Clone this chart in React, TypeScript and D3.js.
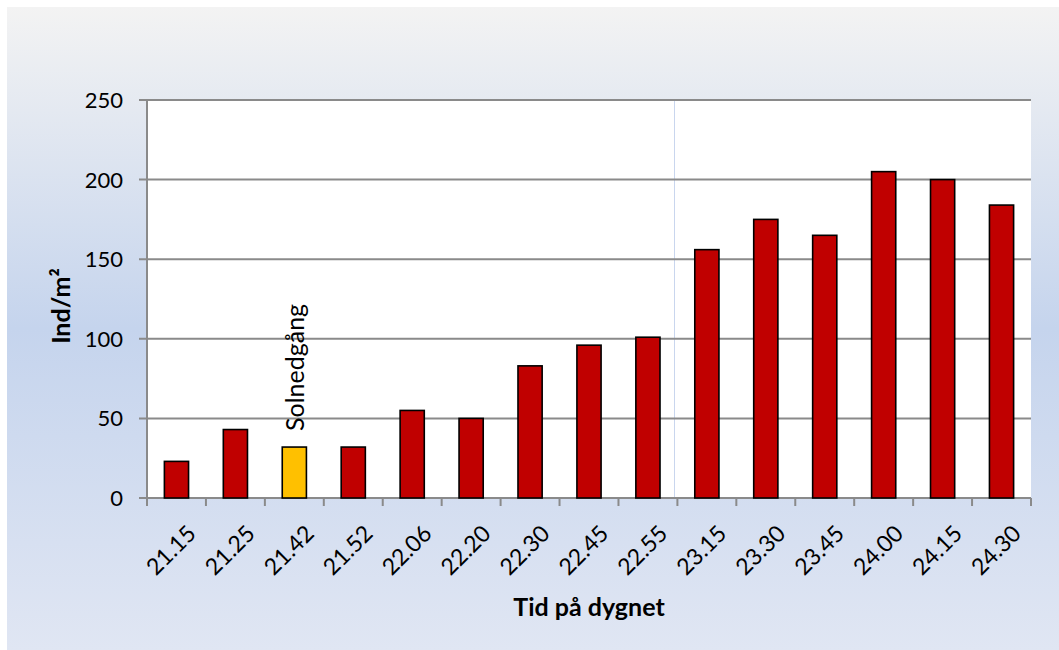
import React from "react";
import * as d3 from "d3";

// Sampling times (x categories) and density values (Ind/m²)
const times = [
  "21.15", "21.25", "21.42", "21.52", "22.06", "22.20", "22.30", "22.45",
  "22.55", "23.15", "23.30", "23.45", "24.00", "24.15", "24.30",
];
const density = [23, 43, 32, 32, 55, 50, 83, 96, 101, 156, 175, 165, 205, 200, 184];
const yTicks = [0, 50, 100, 150, 200, 250];
const sunsetTime = "21.42";
const sunsetLabel = "Solnedgång";
const xTitle = "Tid på dygnet";
const yTitle = "Ind/m²";

const W = 1059;
const H = 650;
const plot = { left: 147, right: 1031, top: 100, bottom: 498 };
const FONT = "Lato, 'Noto Sans', sans-serif";

export default function App() {
  const x = d3
    .scaleBand<string>()
    .domain(times)
    .range([plot.left, plot.right])
    .paddingInner(0.59)
    .paddingOuter(0.295);
  const y = d3.scaleLinear().domain([0, 250]).range([plot.bottom, plot.top]);
  const step = x.step();
  const tickXs = d3.range(times.length + 1).map((i) => plot.left + i * step);

  const sx = (x(sunsetTime) ?? 0) + x.bandwidth() / 2;

  return (
    <svg
      width={W}
      height={H}
      style={{ position: "absolute", left: 0, top: 0, background: "#ffffff" }}
    >
      <defs>
        <linearGradient id="bg" x1="0" y1="0" x2="0" y2="1">
          <stop offset="0" stopColor="#f3f3f3" />
          <stop offset="0.5" stopColor="#c5d4ed" />
          <stop offset="1" stopColor="#e0e6f3" />
        </linearGradient>
      </defs>
      <rect x={7} y={7} width={W - 7} height={H - 7} fill="url(#bg)" />

      {/* plot area */}
      <rect
        x={plot.left}
        y={plot.top}
        width={plot.right - plot.left}
        height={plot.bottom - plot.top}
        fill="#ffffff"
      />
      <line
        x1={674.5}
        x2={674.5}
        y1={plot.top}
        y2={plot.bottom}
        stroke="#c9d6ee"
        strokeWidth={1}
      />

      {/* horizontal gridlines + y ticks */}
      {yTicks.map((t) => (
        <g key={t}>
          <line
            x1={plot.left - 8}
            x2={plot.right}
            y1={y(t)}
            y2={y(t)}
            stroke="#8a8a8a"
            strokeWidth={2}
          />
          <text
            x={123}
            y={y(t)}
            dy="0.36em"
            textAnchor="end"
            fontFamily={FONT}
            fontSize={22}
            fill="#000"
          >
            {t}
          </text>
        </g>
      ))}

      {/* y axis line */}
      <line
        x1={plot.left}
        x2={plot.left}
        y1={plot.top}
        y2={plot.bottom + 8}
        stroke="#8a8a8a"
        strokeWidth={2}
      />

      {/* x ticks */}
      {tickXs.map((tx, i) => (
        <line
          key={i}
          x1={tx}
          x2={tx}
          y1={plot.bottom}
          y2={plot.bottom + 8}
          stroke="#8a8a8a"
          strokeWidth={2}
        />
      ))}

      {/* bars */}
      {times.map((t, i) => (
        <rect
          key={t}
          x={x(t)}
          y={y(density[i])}
          width={x.bandwidth()}
          height={y(0) - y(density[i])}
          fill={t === sunsetTime ? "#ffc000" : "#c00000"}
          stroke="#000"
          strokeWidth={1.6}
        />
      ))}

      {/* x tick labels */}
      {times.map((t) => {
        const cx = (x(t) ?? 0) + x.bandwidth() / 2 + 8;
        const cy = plot.bottom + 24;
        return (
          <text
            key={t}
            transform={`translate(${cx},${cy}) rotate(-45)`}
            textAnchor="end"
            dominantBaseline="hanging"
            fontFamily={FONT}
            fontSize={23}
            fill="#000"
          >
            {t}
          </text>
        );
      })}

      {/* sunset annotation */}
      <text
        transform={`translate(${sx + 10},431) rotate(-90)`}
        textAnchor="start"
        fontFamily={FONT}
        fontSize={25}
        fill="#000"
      >
        {sunsetLabel}
      </text>

      {/* axis titles */}
      <text
        x={589}
        y={616}
        textAnchor="middle"
        fontFamily={FONT}
        fontWeight="bold"
        fontSize={25}
        fill="#000"
      >
        {xTitle}
      </text>
      <text
        transform={`translate(70,306) rotate(-90)`}
        textAnchor="middle"
        fontFamily={FONT}
        fontWeight="bold"
        fontSize={25}
        fill="#000"
      >
        {yTitle}
      </text>
    </svg>
  );
}
